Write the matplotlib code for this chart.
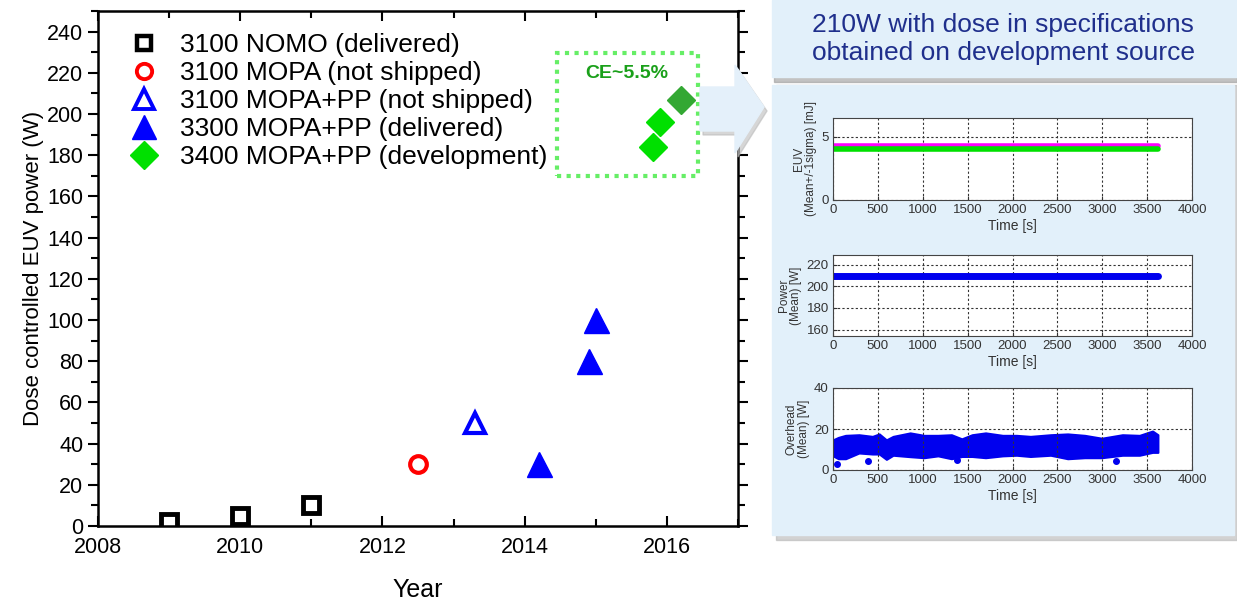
import numpy as np
import matplotlib.pyplot as plt
import matplotlib.patches as mpatches
from matplotlib.lines import Line2D
from matplotlib.ticker import MultipleLocator

plt.rcParams['font.family'] = ['Liberation Sans', 'DejaVu Sans']

# ---- main chart data (year, W) ----
nomo_year = [2009.0, 2010.0, 2011.0]
nomo_pow = [2, 5, 10]
mopa_year = [2012.5]
mopa_pow = [30]
mopapp_ns_year = [2013.3]
mopapp_ns_pow = [50]
nxe3300_year = [2014.2, 2014.9, 2015.0]
nxe3300_pow = [30, 80, 100]
nxe3400_year = [2015.8, 2015.9]
nxe3400_pow = [184, 196]
best_year = [2016.2]
best_pow = [207]

# ---- inset data (time in s) ----
run_t = [0, 3620]
euv_mean_hi = [4.3, 4.3]
euv_mean_lo = [4.05, 4.05]
power_mean = [210, 210]
ovh_t = [0, 60, 140, 290, 440, 515, 595, 670, 860, 1015, 1170, 1320, 1435,
         1550, 1700, 1890, 2045, 2200, 2425, 2615, 2805, 2995, 3225, 3415,
         3560, 3620]
ovh_hi = [14.7, 15.9, 16.9, 17.2, 16.4, 17.6, 14.7, 16.4, 18.1, 16.9, 16.9,
          17.2, 15.2, 17.2, 18.1, 16.9, 16.9, 16.4, 17.2, 17.6, 16.9, 15.5,
          17.2, 16.9, 19.0, 17.2]
ovh_lo = [6.9, 5.5, 5.5, 8.3, 7.8, 7.8, 5.2, 7.2, 6.5, 6.0, 6.9, 5.5, 6.6,
          6.6, 6.0, 6.9, 7.2, 6.6, 7.2, 5.5, 6.0, 6.0, 7.2, 7.2, 8.6, 8.6]
ovh_out_t = [40, 385, 1380, 3150]
ovh_out_v = [3.0, 4.5, 5.0, 4.5]

W, H = 1237, 601
fig = plt.figure(figsize=(W / 100, H / 100), dpi=100)


def box(x0, y0, x1, y1):
    # pixel box (top-left origin) -> figure fraction rect
    return [x0 / W, 1 - y1 / H, (x1 - x0) / W, (y1 - y0) / H]


def fpts(pts):
    return [(x / W, 1 - y / H) for x, y in pts]


# ---- right-hand panel backgrounds ----
panel_bg = '#e2f0fa'
fig.patches.append(mpatches.Rectangle((774 / W, 1 - 82 / H), 463 / W, 8 / H,
                                      transform=fig.transFigure, color='#9a9a9a', alpha=0.6, zorder=0))
fig.patches.append(mpatches.Rectangle((772 / W, 1 - 77 / H), 465 / W, 77 / H,
                                      transform=fig.transFigure, color=panel_bg, zorder=1))
fig.patches.append(mpatches.Rectangle((776 / W, 1 - 540 / H), 461 / W, 455 / H,
                                      transform=fig.transFigure, color='#b5b5b5', alpha=0.6, zorder=0))
fig.patches.append(mpatches.Rectangle((772 / W, 1 - 535 / H), 462 / W, 450 / H,
                                      transform=fig.transFigure, color=panel_bg, zorder=1))
fig.text(1003 / W, 1 - 39 / H, '210W with dose in specifications\nobtained on development source',
         ha='center', va='center', fontsize=19, color='#1f2f8c', linespacing=1.2)

# ---- main chart ----
ax = fig.add_axes(box(98, 11, 738, 526))
ax.plot(nomo_year, nomo_pow, 's', ms=11, mfc='white', mec='black', mew=3.5, ls='none')
ax.plot(mopa_year, mopa_pow, 'o', ms=12, mfc='white', mec='red', mew=3, ls='none')
ax.plot(mopapp_ns_year, mopapp_ns_pow, '^', ms=15, mfc='white', mec='blue', mew=3, ls='none')
ax.plot(nxe3300_year, nxe3300_pow, '^', ms=18, color='blue', ls='none')
ax.plot(nxe3400_year, nxe3400_pow, 'D', ms=14, color='#00e000', ls='none')
ax.plot(best_year, best_pow, 'D', ms=14, color='#33a833', ls='none', zorder=5)

ax.set_xlim(2008, 2017)
ax.set_ylim(0, 250)
ax.xaxis.set_major_locator(MultipleLocator(2))
ax.xaxis.set_minor_locator(MultipleLocator(1))
ax.yaxis.set_minor_locator(MultipleLocator(10))
ax.set_yticks([0, 20, 40, 60, 80, 100, 120, 140, 160, 180, 200, 220, 240])
ax.tick_params(axis='y', which='both', direction='out', right=True, labelsize=15.5)
ax.tick_params(axis='x', which='both', direction='in', top=True, labelsize=15.5, pad=8)
ax.tick_params(which='major', length=7, width=1.5)
ax.tick_params(which='minor', length=5, width=1.5)
for sp in ax.spines.values():
    sp.set_linewidth(1.8)
ax.set_xlabel('Year', fontsize=18, labelpad=14)
ax.set_ylabel('Dose controlled EUV power (W)', fontsize=16, labelpad=2)

handles = [
    Line2D([], [], marker='s', ms=10, mfc='white', mec='black', mew=3.2, ls='none'),
    Line2D([], [], marker='o', ms=11, mfc='white', mec='red', mew=2.8, ls='none'),
    Line2D([], [], marker='^', ms=15, mfc='white', mec='blue', mew=2.8, ls='none'),
    Line2D([], [], marker='^', ms=17, color='blue', ls='none'),
    Line2D([], [], marker='D', ms=14, color='#00e000', ls='none'),
]
labels = ['3100 NOMO (delivered)', '3100 MOPA (not shipped)', '3100 MOPA+PP (not shipped)',
          '3300 MOPA+PP (delivered)', '3400 MOPA+PP (development)']
ax.legend(handles, labels, loc='upper left', bbox_to_anchor=(0.034, 0.977), frameon=False,
          fontsize=19, labelspacing=0.15, handletextpad=0.9, handlelength=1.0,
          borderaxespad=0, borderpad=0.4)

# CE box
ax.add_patch(mpatches.Rectangle((557 / W, 1 - 176 / H), 141 / W, 123 / H, transform=fig.transFigure,
                                fill=False, ec='#66ee66', lw=3, ls=(0, (1, 1.3)), zorder=4))
fig.text(627 / W, 1 - 73 / H, 'CE~5.5%', ha='center', va='center', fontsize=14,
         fontweight='bold', color='#1aa01a', zorder=6)

# arrow
arrow = fpts([(700, 87), (735, 87), (735, 65), (764, 107), (735, 153), (735, 131), (700, 131)])
shadow = [(x + 3 / W, y - 4 / H) for x, y in arrow]
fig.patches.append(mpatches.Polygon(shadow, closed=True, transform=fig.transFigure,
                                    color='#bbbbbb', alpha=0.6, zorder=7))
fig.patches.append(mpatches.Polygon(arrow, closed=True, transform=fig.transFigure,
                                    color='#e4f0fa', zorder=8))

# ---- insets ----
def inset(rect, ylabel):
    a = fig.add_axes(rect)
    a.set_zorder(10)
    a.set_facecolor('white')
    a.set_xlim(0, 4000)
    a.xaxis.set_major_locator(MultipleLocator(500))
    a.grid(True, color='#333333', ls=(0, (2, 2)), lw=0.8)
    a.tick_params(labelsize=9.5, length=3, direction='in', colors='#333333', pad=3)
    a.set_xlabel('Time [s]', fontsize=10, labelpad=2, color='#333333')
    a.set_ylabel(ylabel, fontsize=8.5, color='#333333', labelpad=3, linespacing=1.0)
    for sp in a.spines.values():
        sp.set_color('#444444')
        sp.set_linewidth(0.8)
    return a


a1 = inset(box(833, 118, 1192, 200), 'EUV\n(Mean+/-1sigma) [mJ]')
a1.plot(run_t, euv_mean_hi, color='#ff00ff', lw=4, solid_capstyle='round')
a1.plot(run_t, euv_mean_lo, color='#00e000', lw=4, solid_capstyle='round')
a1.set_ylim(0, 6.5)
a1.set_yticks([0, 5])

a2 = inset(box(833, 255, 1192, 336), 'Power\n(Mean) [W]')
a2.plot(run_t, power_mean, color='#0000ee', lw=5, solid_capstyle='round')
a2.set_ylim(154, 229)
a2.set_yticks([160, 180, 200, 220])

a3 = inset(box(833, 388, 1192, 470), 'Overhead\n(Mean) [W]')
a3.fill_between(ovh_t, ovh_lo, ovh_hi, color='#0000ee', lw=1.5, ec='#0000ee')
a3.plot(ovh_out_t, ovh_out_v, 'o', color='#0000ee', ms=4)
a3.set_ylim(0, 40)
a3.set_yticks([0, 20, 40])

fig.savefig('out.png', dpi=100)
